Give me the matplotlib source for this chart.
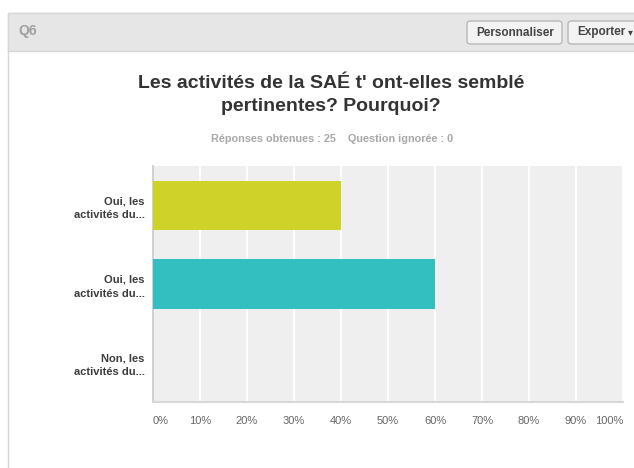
import matplotlib
matplotlib.use("Agg")
import matplotlib.pyplot as plt
from matplotlib.patches import Rectangle, FancyBboxPatch

plt.rcParams['font.family'] = ['Liberation Sans', 'DejaVu Sans']

# ---- data ----
categories = ["Oui, les\nactivités du...", "Oui, les\nactivités du...", "Non, les\nactivités du..."]
values = [40, 60, 0]
bar_colors = ["#cfd329", "#33bfbf"]
tick_values = [0, 10, 20, 30, 40, 50, 60, 70, 80, 90, 100]
tick_labels = [f"{v}%" for v in tick_values]
title = "Les activités de la SAÉ t' ont-elles semblé\npertinentes? Pourquoi?"
subtitle = "Réponses obtenues : 25    Question ignorée : 0"
question_id = "Q6"
buttons = ["Personnaliser", "Exporter"]

W, H = 634, 468
fig = plt.figure(figsize=(W / 100, H / 100), dpi=100)
fig.patch.set_facecolor("white")


def fx(px):
    return px / W


def fy(py):
    return 1 - py / H


# panel frame
fig.patches.append(Rectangle((fx(8), fy(470)), fx(700), (470 - 13) / H, transform=fig.transFigure,
                             facecolor="white", edgecolor="#d6d6d6", linewidth=1, zorder=0))
# header band
fig.patches.append(Rectangle((fx(8), fy(51)), fx(700), (51 - 13) / H, transform=fig.transFigure,
                             facecolor="#e6e6e6", edgecolor="#d6d6d6", linewidth=1, zorder=1))
fig.text(fx(18), fy(31), question_id, fontsize=10, color="#a0a0a0", fontweight="bold",
         va="center", ha="left", zorder=3)

# buttons
btn_boxes = [(467, 562), (568, 645)]
for (x0, x1), label in zip(btn_boxes, buttons):
    fig.patches.append(FancyBboxPatch((fx(x0), fy(44)), fx(x1 - x0), (44 - 21) / H,
                                      boxstyle="round,pad=0,rounding_size=0.006",
                                      transform=fig.transFigure, facecolor="#f3f3f3",
                                      edgecolor="#b8b8b8", linewidth=1, zorder=2))
    fig.text(fx(x0 + 9), fy(32.5), label, fontsize=8.5, color="#444444", fontweight="bold",
             va="center", ha="left", zorder=3)
fig.text(fx(630), fy(32.5), "▾", fontsize=7, color="#444444", va="center", ha="center", zorder=3)

# title and subtitle
fig.text(fx(331), fy(95), title, fontsize=14, fontweight="bold", color="#333333",
         ha="center", va="center", linespacing=1.45, zorder=3)
fig.text(fx(332), fy(139), subtitle, fontsize=7.8, fontweight="bold", color="#a8a8a8",
         ha="center", va="center", zorder=3)

# plot area
left, right, top, bottom = 153, 623, 166, 402
ax = fig.add_axes([fx(left), fy(bottom), fx(right - left), (bottom - top) / H])
ax.set_zorder(5)
ax.set_facecolor("#efefef")
ypos = list(range(len(categories)))
ax.barh(ypos, values, height=0.63, color=bar_colors + ["#999999"] * (len(values) - 2),
        edgecolor="none", zorder=3)
ax.set_xlim(0, 100)
ax.set_ylim(len(categories) - 0.5, -0.5)
ax.set_xticks(tick_values)
ax.set_xticklabels(tick_labels)
ax.grid(axis="x", color="white", linewidth=1.3, zorder=1)
ax.set_axisbelow(True)
ax.set_yticks(ypos)
ax.set_yticklabels(categories, fontsize=8, fontweight="bold", color="#3c3c3c", linespacing=1.45)
ax.tick_params(axis="y", length=0, pad=6)
ax.tick_params(axis="x", length=0, pad=10, labelsize=8, labelcolor="#666666")
labels = ax.get_xticklabels()
labels[0].set_horizontalalignment("left")
labels[-1].set_horizontalalignment("right")
for s in ["top", "right"]:
    ax.spines[s].set_visible(False)
ax.spines["left"].set_color("#c8c8c8")
ax.spines["left"].set_linewidth(1.2)
ax.spines["bottom"].set_color("#d8d8d8")
ax.spines["bottom"].set_linewidth(1.5)

fig.savefig("out.png", dpi=100)
